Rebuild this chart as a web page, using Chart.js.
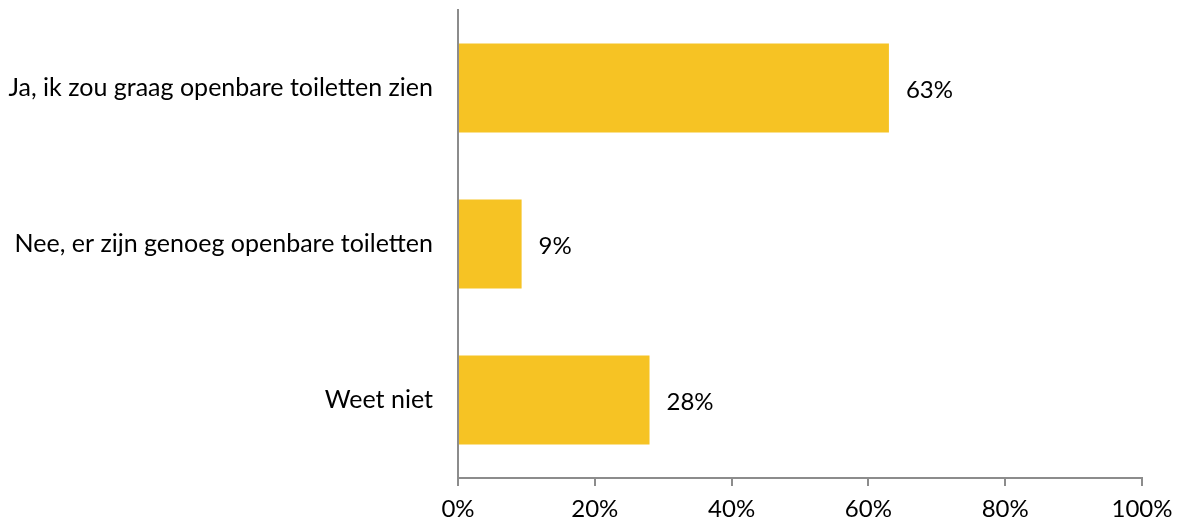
<!DOCTYPE html>
<html>
<head>
<meta charset="utf-8">
<script src="https://cdn.jsdelivr.net/npm/chart.js@4.4.0/dist/chart.umd.min.js"></script>
<style>
  html, body { margin: 0; padding: 0; background: #fff; }
  .wrap { width: 1181px; height: 524px; position: relative; }
</style>
</head>
<body>
<div class="wrap"><canvas id="barChart"></canvas></div>
<script>
// data
const categories = [
  "Ja, ik zou graag openbare toiletten zien",
  "Nee, er zijn genoeg openbare toiletten",
  "Weet niet",
];
const values = [63, 9.3, 28];
const valueLabels = ["63%", "9%", "28%"];
const xTicks = [0, 20, 40, 60, 80, 100];

const fontFamily = "Lato, 'Open Sans', sans-serif";
const axisGray = "#8c8c8c";

//==========================================================================
// value labels next to the bars
const barLabels = {
  id: "barLabels",
  afterDatasetsDraw(chart) {
    const ctx = chart.ctx;
    const meta = chart.getDatasetMeta(0);
    ctx.save();
    ctx.font = "24px " + fontFamily;
    ctx.fillStyle = "#000";
    ctx.textAlign = "left";
    ctx.textBaseline = "middle";
    meta.data.forEach((bar, i) => {
      ctx.fillText(valueLabels[i], bar.x + 17, bar.y + 2);
    });
    ctx.restore();
  },
};

let chartEl = document.querySelector("#barChart");
if (chartEl) {
  const data = {
    labels: categories,
    datasets: [
      {
        data: values,
        backgroundColor: "#F6C324",
        categoryPercentage: 1,
        barPercentage: 0.57,
      },
    ],
  };

  const config = {
    type: "bar",
    data,
    plugins: [barLabels],
    options: {
      indexAxis: "y",
      responsive: false,
      animation: false,
      layout: { padding: { top: 10, right: 39, left: 0, bottom: 0 } },
      scales: {
        x: {
          min: 0,
          max: 100,
          afterBuildTicks: (axis) => {
            axis.ticks = xTicks.map((v) => ({ value: v }));
          },
          afterFit: (axis) => {
            axis.height = 46;
            axis.paddingLeft = 0;
            axis.paddingRight = 0;
          },
          border: { display: true, color: axisGray, width: 2 },
          grid: {
            drawOnChartArea: false,
            drawTicks: true,
            tickLength: 8,
            color: axisGray,
            lineWidth: 2,
          },
          ticks: {
            color: "#000",
            padding: 9,
            maxRotation: 0,
            font: { family: fontFamily, size: 24 },
            callback: (v) => v + "%",
          },
        },
        y: {
          afterFit: (axis) => {
            axis.width = 458;
            axis.paddingTop = 0;
            axis.paddingBottom = 0;
          },
          border: { display: true, color: axisGray, width: 2 },
          grid: { display: false, drawTicks: false },
          ticks: {
            color: "#000",
            padding: 25,
            font: { family: fontFamily, size: 25 },
          },
        },
      },
      plugins: {
        legend: { display: false },
        tooltip: { enabled: false },
      },
    },
  };

  chartEl.width = 1181;
  chartEl.height = 524;
  const barChart = new Chart(chartEl, config);
}
</script>
</body>
</html>
